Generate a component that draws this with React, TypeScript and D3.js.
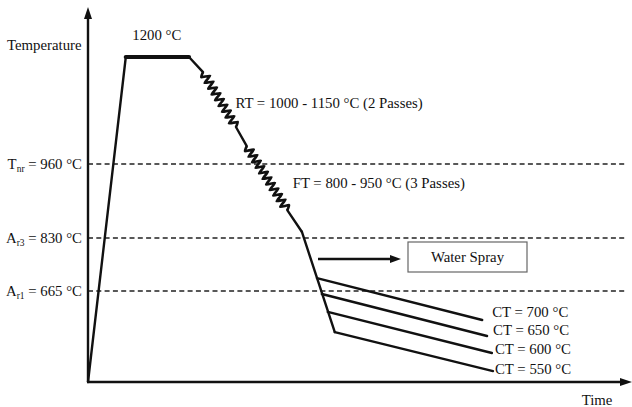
import React from "react";
import * as d3 from "d3";

// ---- Data (schematic thermomechanical processing route) ----
const profileTimes = [0, 7.0, 18.7, 21.3, 27.4, 29.4, 36.9, 39.6, 45.7];
const profileTemps = [0, 1200, 1200, 1166, 1043, 1000, 879, 841, 365];
const segmentKinds = ["line", "plateau", "line", "pass", "line", "pass", "line", "line"];

const refTemps = [960, 830, 665];
const refNames = ["T", "A", "A"];
const refSubs = ["nr", "r3", "r1"];

const ctLabels = ["CT = 700 °C", "CT = 650 °C", "CT = 600 °C", "CT = 550 °C"];
const ctStartTimes = [42.4, 43.3, 44.4, 45.7];
const ctStartTemps = [705, 643, 512, 365];
const ctEndTimes = [73.0, 73.9, 74.8, 75.0];
const ctEndTemps = [453, 336, 212, 80];

const annotations = [
  { text: "1200 °C", t: 8.2, temp: 1238 },
  { text: "RT = 1000 - 1150 °C (2 Passes)", t: 27.3, temp: 1086 },
  { text: "FT = 800 - 950 °C (3 Passes)", t: 37.9, temp: 918 },
];

const W = 632;
const H = 407;
const FONT = "'Liberation Serif', 'Times New Roman', serif";
const ctLabelDx = [10, 6, 3, 2];
const ctLabelDy = [-3, -1, 1, 3];

export default function App() {
  const x = d3.scaleLinear().domain([0, 100]).range([88, 628]);
  const y = d3
    .scaleLinear()
    .domain([0, 665, 830, 960, 1200])
    .range([382, 291, 238, 164, 57]);

  const pts = profileTimes.map((t, i) => [x(t), y(profileTemps[i])] as [number, number]);
  const lineGen = d3.line();
  const curveGen = d3.line().curve(d3.curveCardinal.tension(0.6));

  const zigzag = (p0: [number, number], p1: [number, number]) => {
    const dx = p1[0] - p0[0];
    const dy = p1[1] - p0[1];
    const len = Math.hypot(dx, dy);
    const ux = dx / len, uy = dy / len;
    const nx = -uy, ny = ux;
    const n = Math.round(len / 3.3);
    const amp = 4.2;
    const out: [number, number][] = [p0];
    for (let i = 1; i < n; i++) {
      const s = (i / n) * len;
      const sgn = i % 2 === 0 ? -1 : 1;
      out.push([p0[0] + ux * s + nx * amp * sgn, p0[1] + uy * s + ny * amp * sgn]);
    }
    out.push(p1);
    return curveGen(out) as string;
  };

  const segs = segmentKinds.map((k, i) => {
    const a = pts[i], b = pts[i + 1];
    if (k === "pass") {
      return <path key={i} d={zigzag(a, b)} fill="none" stroke="#111" strokeWidth={2.6} strokeLinejoin="round" />;
    }
    return (
      <path
        key={i}
        d={lineGen([a, b]) as string}
        fill="none"
        stroke="#111"
        strokeWidth={k === "plateau" ? 4.2 : 2.4}
        strokeLinecap="round"
      />
    );
  });

  const x0 = x(0), y0 = y(0);
  const fs = 14.8;

  return (
    <svg
      width={W}
      height={H}
      style={{ position: "absolute", left: 0, top: 0, background: "#fff" }}
      fontFamily={FONT}
    >
      <rect x={0} y={0} width={W} height={H} fill="#fff" />
      {/* reference dashed lines */}
      {refTemps.map((tp, i) => (
        <line key={"d" + i} x1={x0} x2={625} y1={y(tp)} y2={y(tp)} stroke="#222" strokeWidth={1.6} strokeDasharray="5,3.3" />
      ))}
      {/* axes */}
      <line x1={x0} y1={y0} x2={x0} y2={16} stroke="#111" strokeWidth={2.4} />
      <path d={`M${x0},7 L${x0 - 4},19 L${x0 + 4},19 Z`} fill="#111" />
      <line x1={x0 - 1} y1={y0} x2={623} y2={y0} stroke="#111" strokeWidth={2.4} />
      <path d={`M632,${y0} L620,${y0 - 4} L620,${y0 + 4} Z`} fill="#111" />
      <text x={7} y={50} fontSize={fs} fill="#111">Temperature</text>
      <text x={597} y={405} fontSize={fs} fill="#111" textAnchor="middle">Time</text>

      {/* reference labels */}
      {refTemps.map((tp, i) => (
        <text key={"l" + i} x={82} y={y(tp) + 5} fontSize={fs} fill="#111" textAnchor="end">
          {refNames[i]}
          <tspan fontSize={9.5} dy={3}>{refSubs[i]}</tspan>
          <tspan dy={-3}>{` = ${tp} °C`}</tspan>
        </text>
      ))}

      {/* profile */}
      {segs}

      {/* coiling branches */}
      {ctLabels.map((lab, i) => (
        <g key={"c" + i}>
          <line
            x1={x(ctStartTimes[i])}
            y1={y(ctStartTemps[i])}
            x2={x(ctEndTimes[i])}
            y2={y(ctEndTemps[i])}
            stroke="#111"
            strokeWidth={2.4}
            strokeLinecap="round"
          />
          <text x={x(ctEndTimes[i]) + ctLabelDx[i]} y={y(ctEndTemps[i]) + ctLabelDy[i]} fontSize={fs} fill="#111">
            {lab}
          </text>
        </g>
      ))}

      {/* water spray arrow & box */}
      <line x1={318} y1={259} x2={392} y2={259} stroke="#111" strokeWidth={2.4} />
      <path d="M401,259 L390,255 L390,263 Z" fill="#111" />
      <rect x={408} y={242} width={119} height={30} fill="#fff" stroke="#666" strokeWidth={1.2} />
      <text x={467.5} y={262} fontSize={fs} fill="#111" textAnchor="middle">Water Spray</text>

      {/* annotations */}
      {annotations.map((a, i) => (
        <text key={"a" + i} x={x(a.t)} y={y(a.temp)} fontSize={fs} fill="#111">{a.text}</text>
      ))}
    </svg>
  );
}
